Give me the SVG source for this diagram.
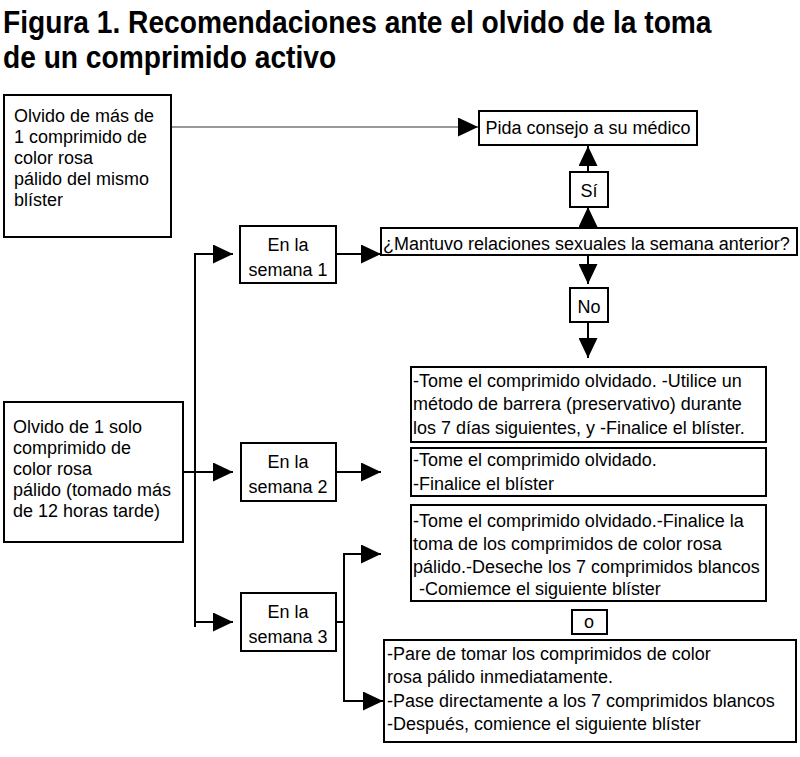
<svg xmlns="http://www.w3.org/2000/svg" width="800" height="757" viewBox="0 0 800 757">
<style>
.box{fill:#fff;stroke:#000;stroke-width:2}
.t{font-family:"Liberation Sans",Arial,sans-serif;font-size:18.8px;fill:#000}
.c{text-anchor:middle}
.ttl{font-family:"Liberation Sans",Arial,sans-serif;font-size:32px;font-weight:bold;fill:#000}
.ln{fill:none;stroke:#000;stroke-width:2}
.thin{fill:none;stroke:#333;stroke-width:1.2}
</style>
<defs>
<marker id="ah" markerUnits="userSpaceOnUse" markerWidth="20" markerHeight="19" viewBox="0 0 20 19" refX="20" refY="9.5" orient="auto">
<path d="M0,0 L20,9.5 L0,19 Z" fill="#000"/>
</marker>
</defs>
<g id="title">
<text class="ttl" transform="translate(3,33) scale(0.88,1)">Figura 1. Recomendaciones ante el olvido de la toma</text>
<text class="ttl" transform="translate(3,68) scale(0.88,1)">de un comprimido activo</text>
</g>
<g id="connectors">
<line class="thin" x1="171" y1="127" x2="478" y2="127" marker-end="url(#ah)"/>
<line class="ln" x1="588" y1="172" x2="588" y2="146" marker-end="url(#ah)"/>
<line class="ln" x1="588" y1="228" x2="588" y2="207" marker-end="url(#ah)"/>
<line class="ln" x1="588" y1="254" x2="588" y2="284" marker-end="url(#ah)"/>
<line class="ln" x1="588" y1="322" x2="588" y2="358" marker-end="url(#ah)"/>
<line class="ln" x1="195" y1="253" x2="195" y2="627"/>
<line class="ln" x1="194" y1="254" x2="233" y2="254" marker-end="url(#ah)"/>
<line class="ln" x1="183" y1="472" x2="233" y2="472" marker-end="url(#ah)"/>
<line class="ln" x1="194" y1="622" x2="233" y2="622" marker-end="url(#ah)"/>
<line class="ln" x1="336" y1="254" x2="381" y2="254" marker-end="url(#ah)"/>
<line class="ln" x1="336" y1="472" x2="381" y2="472" marker-end="url(#ah)"/>
<polyline class="ln" points="336,622 344,622"/>
<line class="ln" x1="344" y1="553" x2="344" y2="702"/>
<line class="ln" x1="343" y1="554" x2="381" y2="554" marker-end="url(#ah)"/>
<line class="ln" x1="343" y1="701" x2="383" y2="701" marker-end="url(#ah)"/>
</g>
<g id="nodeA">
<rect class="box" x="4" y="95" width="167" height="142"/>
<text class="t" transform="translate(14,122) scale(.957,1)">Olvido de más de</text>
<text class="t" transform="translate(14,143) scale(.957,1)">1 comprimido de</text>
<text class="t" transform="translate(14,164) scale(.957,1)">color rosa</text>
<text class="t" transform="translate(14,185) scale(.957,1)">pálido del mismo</text>
<text class="t" transform="translate(14,206) scale(.957,1)">blíster</text>
</g>
<g id="nodePida">
<rect class="box" x="479" y="111" width="218" height="34"/>
<text class="t c" transform="translate(588,134) scale(.957,1)">Pida consejo a su médico</text>
</g>
<g id="nodeSi">
<rect class="box" x="570" y="172" width="38" height="35"/>
<text class="t c" transform="translate(589,197) scale(.957,1)">Sí</text>
</g>
<g id="nodeQuestion">
<rect class="box" x="381" y="228" width="416" height="27"/>
<text class="t" transform="translate(383,250) scale(.957,1)">¿Mantuvo relaciones sexuales la semana anterior?</text>
</g>
<g id="nodeNo">
<rect class="box" x="570" y="288" width="38" height="34"/>
<text class="t c" transform="translate(589,313) scale(.957,1)">No</text>
</g>
<g id="nodeSem1">
<rect class="box" x="240" y="226" width="96" height="57"/>
<text class="t c" transform="translate(288,251) scale(.957,1)">En la</text>
<text class="t c" transform="translate(288,276) scale(.957,1)">semana 1</text>
</g>
<g id="nodeB">
<rect class="box" x="4" y="402" width="179" height="140"/>
<text class="t" transform="translate(13,433) scale(.957,1)">Olvido de 1 solo</text>
<text class="t" transform="translate(13,454) scale(.957,1)">comprimido de</text>
<text class="t" transform="translate(13,475) scale(.957,1)">color rosa</text>
<text class="t" transform="translate(13,496) scale(.957,1)">pálido (tomado más</text>
<text class="t" transform="translate(13,517) scale(.957,1)">de 12 horas tarde)</text>
</g>
<g id="nodeT1">
<rect class="box" x="411" y="367" width="355" height="75"/>
<text class="t" transform="translate(413,387) scale(.957,1)">-Tome el comprimido olvidado. -Utilice un</text>
<text class="t" transform="translate(413,410) scale(.957,1)">método de barrera (preservativo) durante</text>
<text class="t" transform="translate(413,434) scale(.957,1)">los 7 días siguientes, y -Finalice el blíster.</text>
</g>
<g id="nodeSem2">
<rect class="box" x="241" y="443" width="95" height="58"/>
<text class="t c" transform="translate(288,468) scale(.957,1)">En la</text>
<text class="t c" transform="translate(288,493) scale(.957,1)">semana 2</text>
</g>
<g id="nodeT2">
<rect class="box" x="411" y="448" width="355" height="48"/>
<text class="t" transform="translate(413,466) scale(.957,1)">-Tome el comprimido olvidado.</text>
<text class="t" transform="translate(413,490) scale(.957,1)">-Finalice el blíster</text>
</g>
<g id="nodeT3">
<rect class="box" x="411" y="505" width="355" height="96"/>
<text class="t" transform="translate(413,527) scale(.957,1)">-Tome el comprimido olvidado.-Finalice la</text>
<text class="t" transform="translate(413,550) scale(.957,1)">toma de los comprimidos de color rosa</text>
<text class="t" transform="translate(413,573) scale(.957,1)">pálido.-Deseche los 7 comprimidos blancos</text>
<text class="t" transform="translate(419,595) scale(.957,1)">-Comiemce el siguiente blíster</text>
</g>
<g id="nodeSem3">
<rect class="box" x="241" y="593" width="95" height="58"/>
<text class="t c" transform="translate(288,618) scale(.957,1)">En la</text>
<text class="t c" transform="translate(288,643) scale(.957,1)">semana 3</text>
</g>
<g id="nodeO">
<rect class="box" x="572" y="610" width="35" height="24"/>
<text class="t c" transform="translate(589,628) scale(.957,1)">o</text>
</g>
<g id="nodeT4">
<rect class="box" x="384" y="640" width="412" height="102"/>
<text class="t" transform="translate(387,660) scale(.957,1)">-Pare de tomar los comprimidos de color</text>
<text class="t" transform="translate(387,683) scale(.957,1)">rosa pálido inmediatamente.</text>
<text class="t" transform="translate(387,707) scale(.957,1)">-Pase directamente a los 7 comprimidos blancos</text>
<text class="t" transform="translate(387,730) scale(.957,1)">-Después, comience el siguiente blíster</text>
</g>
</svg>
